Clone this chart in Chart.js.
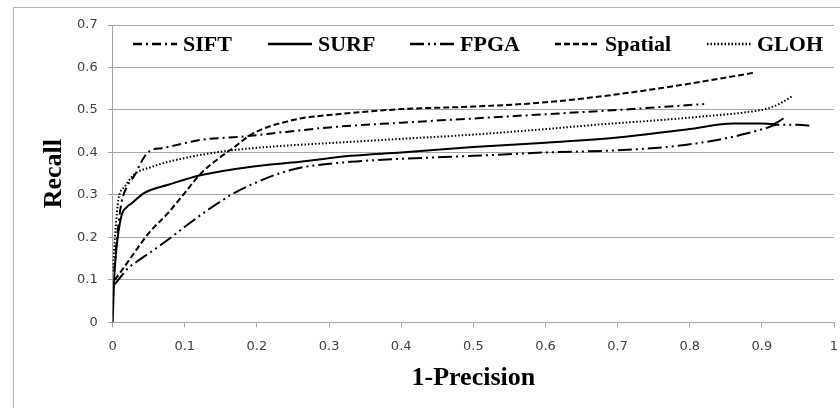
<!DOCTYPE html>
<html>
<head>
<meta charset="utf-8">
<script src="https://cdn.jsdelivr.net/npm/chart.js@4.4.1/dist/chart.umd.min.js"></script>
<style>
  html, body { margin: 0; padding: 0; background: #fff; }
  #wrap { position: relative; width: 840px; height: 408px; }
</style>
</head>
<body>
<div id="wrap"><canvas id="chart" width="840" height="408"></canvas></div>
<script>
// values (x = 1-Precision, y = Recall)
const siftX = [0.002, 0.006, 0.012, 0.02, 0.03, 0.044, 0.054, 0.068, 0.1, 0.123, 0.178, 0.243, 0.307, 0.4, 0.5, 0.6, 0.7, 0.82]
const siftY = [0.12, 0.2, 0.28, 0.32, 0.345, 0.39, 0.406, 0.41, 0.422, 0.43, 0.437, 0.449, 0.46, 0.47, 0.48, 0.49, 0.5, 0.514]

const surfX = [0, 0.002, 0.005, 0.012, 0.02, 0.026, 0.044, 0.077, 0.123, 0.19, 0.26, 0.33, 0.4, 0.5, 0.6, 0.7, 0.8, 0.86, 0.9, 0.915, 0.93]
const surfY = [0, 0.1, 0.17, 0.25, 0.272, 0.28, 0.305, 0.324, 0.347, 0.366, 0.378, 0.392, 0.4, 0.413, 0.423, 0.435, 0.455, 0.468, 0.468, 0.467, 0.48]

const fpgaX = [0.003, 0.01, 0.02, 0.035, 0.054, 0.077, 0.1, 0.123, 0.15, 0.169, 0.2, 0.23, 0.26, 0.33, 0.4, 0.5, 0.6, 0.7, 0.78, 0.84, 0.88, 0.907, 0.92, 0.95, 0.97]
const fpgaY = [0.09, 0.105, 0.125, 0.145, 0.167, 0.195, 0.225, 0.254, 0.285, 0.305, 0.33, 0.35, 0.364, 0.378, 0.385, 0.392, 0.4, 0.405, 0.415, 0.43, 0.445, 0.458, 0.465, 0.465, 0.462]

const spatialX = [0.003, 0.015, 0.03, 0.05, 0.077, 0.1, 0.123, 0.15, 0.169, 0.19, 0.215, 0.24, 0.26, 0.3, 0.4, 0.5, 0.6, 0.7, 0.8, 0.89]
const spatialY = [0.1, 0.128, 0.164, 0.21, 0.258, 0.305, 0.352, 0.39, 0.413, 0.44, 0.46, 0.472, 0.48, 0.488, 0.502, 0.508, 0.518, 0.537, 0.562, 0.588]

const glohX = [0, 0.004, 0.008, 0.017, 0.029, 0.054, 0.1, 0.16, 0.215, 0.33, 0.4, 0.5, 0.6, 0.676, 0.75, 0.82, 0.88, 0.907, 0.925, 0.942]
const glohY = [0.12, 0.22, 0.29, 0.32, 0.347, 0.366, 0.387, 0.404, 0.413, 0.425, 0.432, 0.442, 0.455, 0.466, 0.475, 0.485, 0.495, 0.503, 0.515, 0.532]

const seriesNames = ['SIFT', 'SURF', 'FPGA', 'Spatial', 'GLOH']

function points(xs, ys) {
  return xs.map((x, i) => ({ x: x, y: ys[i] }))
}

function series(label, xs, ys, dash) {
  return {
    label: label,
    data: points(xs, ys),
    borderColor: '#000',
    backgroundColor: '#000',
    borderWidth: 2,
    borderDash: dash,
    pointRadius: 0,
    fill: false,
    cubicInterpolationMode: 'monotone',
  }
}

// legend drawn inside the plot, like the spreadsheet original
const legendLeft = [133, 268, 410, 555, 707]
const innerLegend = {
  id: 'innerLegend',
  afterDraw(chart) {
    const ctx = chart.ctx
    ctx.save()
    ctx.font = 'bold 22px "Liberation Serif", "Times New Roman", serif'
    ctx.textBaseline = 'middle'
    ctx.fillStyle = '#000'
    const y = 44
    chart.data.datasets.forEach((ds, i) => {
      const x = legendLeft[i]
      ctx.strokeStyle = '#000'
      ctx.lineWidth = 2.5
      ctx.setLineDash(ds.borderDash || [])
      ctx.beginPath()
      ctx.moveTo(x, y)
      ctx.lineTo(x + 44, y)
      ctx.stroke()
      ctx.setLineDash([])
      ctx.fillText(ds.label, x + 50, y + 1)
    })
    ctx.restore()
  },
}

const frame = {
  id: 'frame',
  beforeDraw(chart) {
    const ctx = chart.ctx
    ctx.save()
    ctx.fillStyle = '#fff'
    ctx.fillRect(0, 0, chart.width, chart.height)
    ctx.strokeStyle = '#b4b4b4'
    ctx.lineWidth = 1
    ctx.strokeRect(13.5, 7.5, 840, 420)
    ctx.restore()
  },
}

const gridColor = '#a6a6a6'
const tickFont = { family: '"DejaVu Sans", Verdana, sans-serif', size: 13 }
const titleFont = { family: '"Liberation Serif", "Times New Roman", serif', size: 26, weight: 'bold', lineHeight: 1 }

new Chart(document.getElementById('chart'), {
  type: 'line',
  data: {
    datasets: [
      series(seriesNames[0], siftX, siftY, [9, 4, 2, 4]),
      series(seriesNames[1], surfX, surfY, []),
      series(seriesNames[2], fpgaX, fpgaY, [14, 4, 2, 4, 2, 4]),
      series(seriesNames[3], spatialX, spatialY, [6, 3]),
      series(seriesNames[4], glohX, glohY, [1.5, 2]),
    ],
  },
  options: {
    responsive: false,
    animation: false,
    layout: { padding: { left: 41, right: 6, top: 25, bottom: 17 } },
    plugins: {
      legend: { display: false },
      tooltip: { enabled: false },
    },
    scales: {
      x: {
        type: 'linear',
        min: 0,
        max: 1,
        afterFit: (scale) => { scale.paddingRight = 0 },
        ticks: {
          stepSize: 0.1,
          color: '#404040',
          font: tickFont,
          padding: 11,
          maxRotation: 0,
          callback: (v) => String(Math.round(v * 10) / 10),
        },
        grid: { drawOnChartArea: false, drawTicks: true, tickLength: 5, color: gridColor },
        border: { color: gridColor },
        title: { display: true, text: '1-Precision', color: '#000', font: titleFont, padding: { top: 0, bottom: 0 } },
      },
      y: {
        min: 0,
        max: 0.7,
        ticks: { stepSize: 0.1, color: '#404040', font: tickFont, padding: 10 },
        grid: { color: gridColor, tickLength: 5 },
        border: { color: gridColor },
        title: { display: true, text: 'Recall', color: '#000', font: titleFont, padding: { top: 0, bottom: 0 } },
      },
    },
  },
  plugins: [frame, innerLegend],
})
</script>
</body>
</html>
